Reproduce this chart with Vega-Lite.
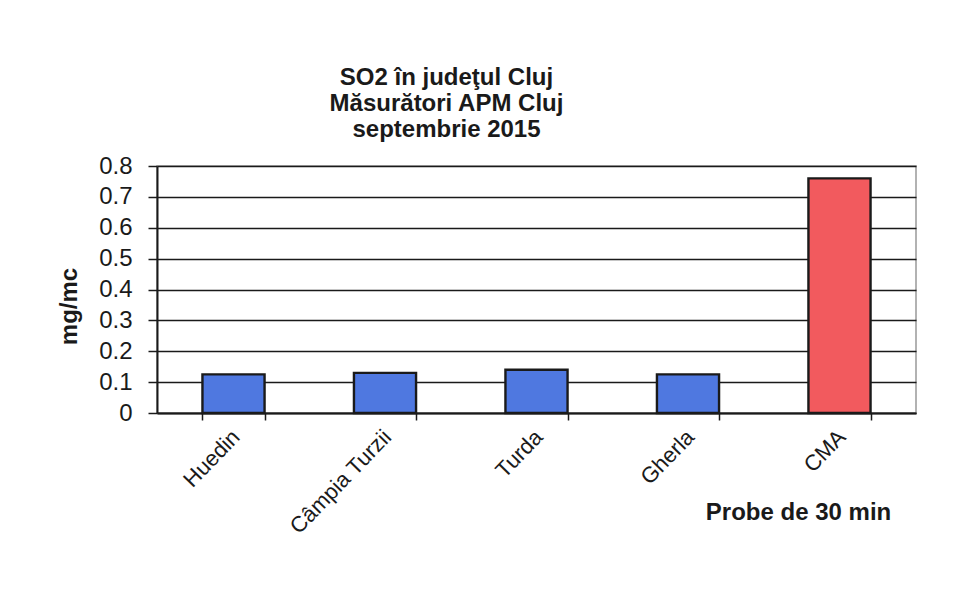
{
  "$schema": "https://vega.github.io/schema/vega-lite/v6.json",
  "autosize": {"type": "none"},
  "width": 759,
  "height": 247,
  "padding": {"left": 157, "top": 166, "right": 46, "bottom": 186},
  "background": "white",
  "data": {"values": [
    {"loc": "Huedin", "val": 0.125, "tip": "proba"},
    {"loc": "Câmpia Turzii", "val": 0.13, "tip": "proba"},
    {"loc": "Turda", "val": 0.14, "tip": "proba"},
    {"loc": "Gherla", "val": 0.125, "tip": "proba"},
    {"loc": "CMA", "val": 0.76, "tip": "cma"}
  ]},
  "title": {
    "text": ["SO2 în judeţul Cluj", "Măsurători APM Cluj", "septembrie 2015"],
    "font": "Liberation Sans",
    "fontSize": 24,
    "fontWeight": "bold",
    "color": "#1a1a1a",
    "lineHeight": 26,
    "anchor": "middle",
    "dx": -90,
    "offset": 12
  },
  "mark": {"type": "bar", "stroke": "#1a1a1a", "strokeWidth": 2.4},
  "encoding": {
    "x": {
      "field": "loc", "type": "nominal", "sort": null,
      "scale": {"paddingInner": 0.59, "paddingOuter": 0.3},
      "axis": {
        "title": "Probe de 30 min",
        "titleFont": "Liberation Sans", "titleFontSize": 24, "titleFontWeight": "bold", "titleColor": "#1a1a1a",
        "titleX": 641, "titleY": 99, "titleAlign": "center", "titleBaseline": "middle",
        "labelAngle": -46, "labelFont": "Liberation Sans", "labelFontSize": 22, "labelColor": "#1a1a1a",
        "labelPadding": 13, "labelOffset": 2,
        "tickBand": "extent", "tickColor": "#1a1a1a", "tickSize": 7, "tickWidth": 1.5,
        "domainColor": "#1a1a1a", "domainWidth": 2
      }
    },
    "y": {
      "field": "val", "type": "quantitative",
      "scale": {"domain": [0, 0.8], "nice": false},
      "axis": {
        "title": "mg/mc", "values": [0, 0.1, 0.2, 0.3, 0.4, 0.5, 0.6, 0.7, 0.8],
        "titleFont": "Liberation Sans", "titleFontSize": 24, "titleFontWeight": "bold", "titleColor": "#1a1a1a",
        "titleAngle": -90, "titleX": -88, "titleY": 140, "titleAlign": "center", "titleBaseline": "middle",
        "labelFont": "Liberation Sans", "labelFontSize": 24, "labelColor": "#1a1a1a",
        "labelPadding": 16,
        "grid": true, "gridColor": "#1a1a1a", "gridWidth": 1.5,
        "tickColor": "#1a1a1a", "tickSize": 9, "tickWidth": 1.5,
        "domainColor": "#1a1a1a", "domainWidth": 2,
        "format": ".1~f"
      }
    },
    "color": {
      "field": "tip", "type": "nominal",
      "scale": {"domain": ["proba", "cma"], "range": ["#4f78e0", "#f25a5e"]},
      "legend": null
    }
  },
  "config": {
    "view": {"stroke": "#999999", "strokeWidth": 1.5}
  }
}
